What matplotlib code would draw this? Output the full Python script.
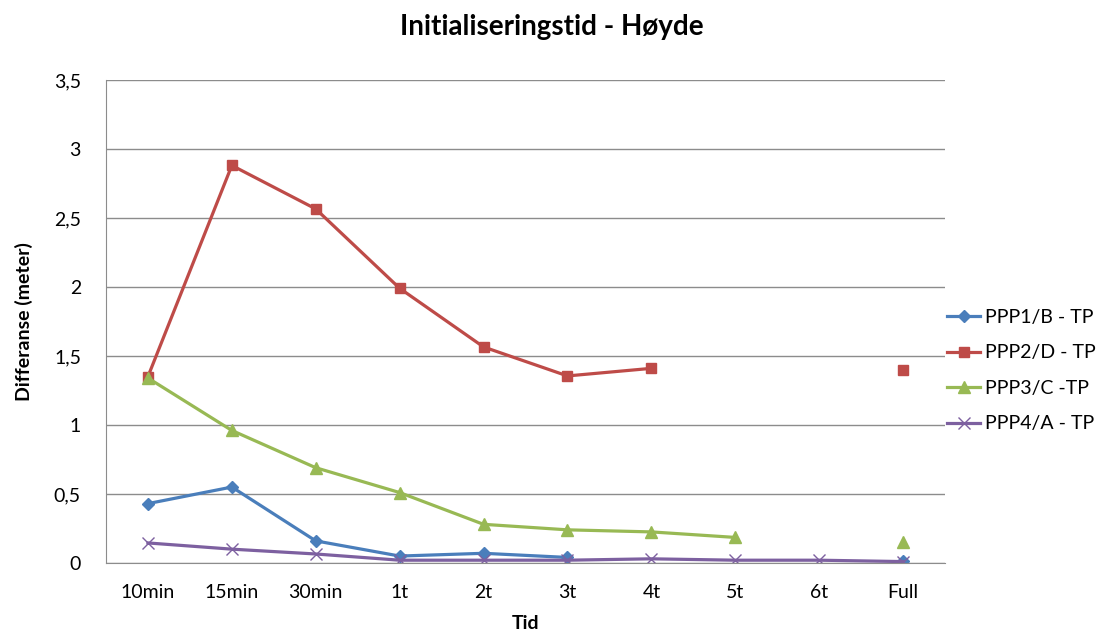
import matplotlib
matplotlib.use("Agg")
import matplotlib.pyplot as plt
import numpy as np
from matplotlib.ticker import FuncFormatter

plt.rcParams["font.family"] = ["Lato", "DejaVu Sans"]

categories = ["10min", "15min", "30min", "1t", "2t", "3t", "4t", "5t", "6t", "Full"]
nan = np.nan
ppp1_b = [0.43, 0.55, 0.16, 0.05, 0.07, 0.04, nan, nan, nan, 0.015]
ppp2_d = [1.35, 2.88, 2.565, 1.99, 1.565, 1.355, 1.41, nan, nan, 1.40]
ppp3_c = [1.34, 0.96, 0.69, 0.51, 0.28, 0.24, 0.225, 0.185, nan, 0.15]
ppp4_a = [0.145, 0.10, 0.065, 0.02, 0.02, 0.02, 0.03, 0.02, 0.02, 0.01]

SERIES = [
    ("PPP1/B - TP", ppp1_b, "#4A7EBB", "D", 6),
    ("PPP2/D - TP", ppp2_d, "#BE4B48", "s", 7),
    ("PPP3/C -TP", ppp3_c, "#98B954", "^", 8),
    ("PPP4/A - TP", ppp4_a, "#7D60A0", "x", 8),
]

fig = plt.figure(figsize=(11.04, 6.39), dpi=100)
ax = fig.add_axes([0.096, 0.119, 0.76, 0.756])

x = np.arange(len(categories))
for label, values, color, marker, size in SERIES:
    kw = dict(markeredgewidth=1.0) if marker == "x" else dict(markeredgecolor=color)
    ax.plot(x, values, color=color, linewidth=2.3, marker=marker, markersize=size,
            label=label, **kw)

ax.set_xlim(-0.5, len(categories) - 0.5)
ax.set_ylim(0, 3.5)
ax.set_yticks(np.arange(0, 3.51, 0.5))
ax.yaxis.set_major_formatter(FuncFormatter(lambda v, _: f"{v:g}".replace(".", ",")))
ax.set_xticks(x)
ax.set_xticklabels(categories)
ax.tick_params(length=0, labelsize=14, pad=15)
ax.tick_params(axis="y", pad=18)
ax.grid(axis="y", color="#8c8c8c", linewidth=1)
ax.set_axisbelow(True)
for side in ("top", "right"):
    ax.spines[side].set_visible(False)
for side in ("left", "bottom"):
    ax.spines[side].set_color("#8c8c8c")

ax.set_xlabel("Tid", fontsize=14, fontweight="bold", labelpad=10)
ax.set_ylabel("Differanse (meter)", fontsize=14, fontweight="bold", labelpad=15)
fig.suptitle("Initialiseringstid - Høyde", fontsize=20, fontweight="bold", y=0.978)

ax.legend(loc="center left", bbox_to_anchor=(0.858, 0.42), bbox_transform=fig.transFigure,
          frameon=False, fontsize=14, handlelength=1.7, handletextpad=0.25,
          labelspacing=0.95, borderaxespad=0, borderpad=0)

fig.savefig("out.png", dpi=100)
